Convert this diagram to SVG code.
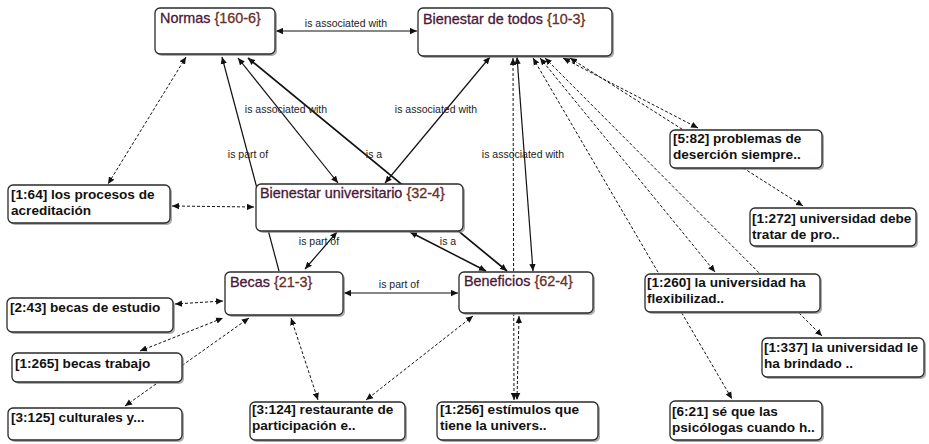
<svg xmlns="http://www.w3.org/2000/svg" width="929" height="444" viewBox="0 0 929 444">
<defs>
<marker id="ah" viewBox="0 0 10 10" refX="10" refY="5" markerWidth="7" markerHeight="7" markerUnits="userSpaceOnUse" orient="auto-start-reverse"><path d="M0,0.5 L10,5 L0,9.5 z" fill="#111"/></marker>
<style>
.bg{fill:#fff}
.sh{fill:#8a8a8a;opacity:.7}
.bx{fill:#fff;stroke:#2a2a2a;stroke-width:1.3}
.code{font-family:"Liberation Sans",Arial,sans-serif;font-size:14.4px;fill:#4a1838;stroke:#4a1838;stroke-width:0.3}
.br{fill:#6a3024;stroke:#6a3024}
.q{font-family:"Liberation Sans",Arial,sans-serif;font-size:13.6px;font-weight:bold;fill:#111}
.s{fill:none;stroke:#111;stroke-width:1.2;marker-start:url(#ah);marker-end:url(#ah)}
.d{fill:none;stroke:#111;stroke-width:1;stroke-dasharray:3 2;marker-start:url(#ah);marker-end:url(#ah)}
.lb{font-family:"Liberation Sans",Arial,sans-serif;font-size:10.5px;fill:#222;text-anchor:middle}
</style>
</defs>
<rect class="bg" x="0" y="0" width="929" height="444"/>
<g id="connectors">
<line class="s" x1="276" y1="31" x2="417" y2="31"/>
<line class="s" x1="279" y1="271" x2="222" y2="57" style="marker-start:none"/>
<line class="s" x1="238" y1="58" x2="338" y2="183"/>
<line class="s" x1="385" y1="183" x2="490" y2="57"/>
<line class="s" x1="507" y1="271" x2="248" y2="58" style="stroke-width:1.7"/>
<line class="s" x1="337" y1="232" x2="305" y2="269"/>
<line class="s" x1="486" y1="271" x2="410" y2="232" style="stroke-width:1.5"/>
<line class="s" x1="344" y1="293" x2="458" y2="293"/>
<line class="s" x1="533" y1="271" x2="517" y2="57"/>
<line class="d" x1="186" y1="57" x2="108" y2="184"/>
<line class="d" x1="172" y1="206" x2="254" y2="207"/>
<line class="d" x1="175" y1="304" x2="223" y2="301"/>
<line class="d" x1="140" y1="351" x2="223" y2="318"/>
<line class="d" x1="125" y1="406" x2="249" y2="318"/>
<line class="d" x1="291" y1="318" x2="318" y2="400"/>
<line class="d" x1="473" y1="316" x2="366" y2="400"/>
<line class="d" x1="519" y1="316" x2="517" y2="400"/>
<line class="d" x1="513" y1="58" x2="514" y2="400"/>
<line class="d" x1="533" y1="58" x2="732" y2="399"/>
<line class="d" x1="540" y1="58" x2="715" y2="272"/>
<line class="d" x1="545" y1="58" x2="822" y2="336"/>
<line class="d" x1="563" y1="58" x2="698" y2="128"/>
<line class="d" x1="570" y1="58" x2="803" y2="206"/>
<text class="lb" x="346" y="27">is associated with</text>
<text class="lb" x="286" y="113">is associated with</text>
<text class="lb" x="436" y="113">is associated with</text>
<text class="lb" x="248" y="158">is part of</text>
<text class="lb" x="374" y="158">is a</text>
<text class="lb" x="523" y="158">is associated with</text>
<text class="lb" x="319" y="245">is part of</text>
<text class="lb" x="448" y="245">is a</text>
<text class="lb" x="399" y="288">is part of</text>
</g>
<g id="normas"><rect class="sh" x="157" y="10" width="120" height="46" rx="5"/><rect class="bx" x="155" y="8" width="120" height="46" rx="5"/><text class="code" x="160" y="23">Normas <tspan class="br">{160-6}</tspan></text></g>
<g id="bienestar-todos"><rect class="sh" x="420" y="10" width="194" height="48" rx="5"/><rect class="bx" x="418" y="8" width="194" height="48" rx="5"/><text class="code" x="423" y="24">Bienestar de todos <tspan class="br">{10-3}</tspan></text></g>
<g id="bienestar-universitario"><rect class="sh" x="258" y="186" width="207" height="47" rx="5"/><rect class="bx" x="256" y="184" width="207" height="47" rx="5"/><text class="code" x="260" y="198">Bienestar universitario <tspan class="br">{32-4}</tspan></text></g>
<g id="becas"><rect class="sh" x="227" y="274" width="118" height="43" rx="5"/><rect class="bx" x="225" y="272" width="118" height="43" rx="5"/><text class="code" x="230" y="287">Becas <tspan class="br">{21-3}</tspan></text></g>
<g id="beneficios"><rect class="sh" x="461" y="274" width="134" height="41" rx="5"/><rect class="bx" x="459" y="272" width="134" height="41" rx="5"/><text class="code" x="464" y="286">Beneficios <tspan class="br">{62-4}</tspan></text></g>
<g id="q1-64"><rect class="sh" x="10" y="187" width="162" height="38" rx="5"/><rect class="bx" x="8" y="185" width="162" height="38" rx="5"/><text class="q" x="11" y="199">[1:64] los procesos de</text><text class="q" x="11" y="215">acreditación</text></g>
<g id="q2-43"><rect class="sh" x="9" y="300" width="166" height="34" rx="5"/><rect class="bx" x="7" y="298" width="166" height="34" rx="5"/><text class="q" x="10" y="312">[2:43] becas de estudio</text></g>
<g id="q1-265"><rect class="sh" x="14" y="355" width="170" height="29" rx="5"/><rect class="bx" x="12" y="353" width="170" height="29" rx="5"/><text class="q" x="15" y="368">[1:265] becas trabajo</text></g>
<g id="q3-125"><rect class="sh" x="10" y="410" width="174" height="32" rx="5"/><rect class="bx" x="8" y="408" width="174" height="32" rx="5"/><text class="q" x="11" y="422">[3:125] culturales  y...</text></g>
<g id="q3-124"><rect class="sh" x="252" y="404" width="155" height="38" rx="5"/><rect class="bx" x="250" y="402" width="155" height="38" rx="5"/><text class="q" x="252" y="414">[3:124] restaurante de</text><text class="q" x="252" y="430">participación e..</text></g>
<g id="q1-256"><rect class="sh" x="439" y="404" width="161" height="38" rx="5"/><rect class="bx" x="437" y="402" width="161" height="38" rx="5"/><text class="q" x="440" y="414">[1:256] estímulos que</text><text class="q" x="440" y="430">tiene la univers..</text></g>
<g id="q5-82"><rect class="sh" x="672" y="132" width="152" height="38" rx="5"/><rect class="bx" x="670" y="130" width="152" height="38" rx="5"/><text class="q" x="673" y="143">[5:82] problemas de</text><text class="q" x="673" y="159">deserción siempre..</text></g>
<g id="q1-272"><rect class="sh" x="752" y="210" width="166" height="38" rx="5"/><rect class="bx" x="750" y="208" width="166" height="38" rx="5"/><text class="q" x="752" y="223">[1:272] universidad debe</text><text class="q" x="752" y="239">tratar de pro..</text></g>
<g id="q1-260"><rect class="sh" x="647" y="276" width="175" height="38" rx="5"/><rect class="bx" x="645" y="274" width="175" height="38" rx="5"/><text class="q" x="647" y="287">[1:260] la universidad ha</text><text class="q" x="647" y="303">flexibilizad..</text></g>
<g id="q1-337"><rect class="sh" x="764" y="340" width="162" height="39" rx="5"/><rect class="bx" x="762" y="338" width="162" height="39" rx="5"/><text class="q" x="764" y="352">[1:337] la universidad le</text><text class="q" x="764" y="368">ha brindado ..</text></g>
<g id="q6-21"><rect class="sh" x="672" y="403" width="152" height="39" rx="5"/><rect class="bx" x="670" y="401" width="152" height="39" rx="5"/><text class="q" x="672" y="416">[6:21] sé que las</text><text class="q" x="672" y="432">psicólogas cuando h..</text></g>
</svg>
